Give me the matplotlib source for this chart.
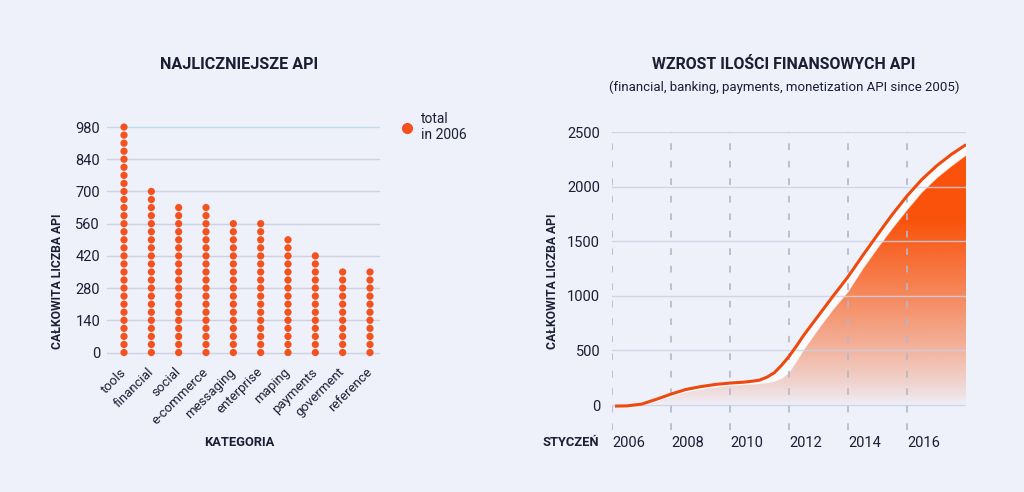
import numpy as np
import matplotlib
matplotlib.use('Agg')
import matplotlib.pyplot as plt
from matplotlib.lines import Line2D
from matplotlib.colors import to_rgb

plt.rcParams['font.family'] = ['Roboto', 'DejaVu Sans']

BG = '#EEF0FA'
DOT = '#F4511E'
LINE = '#EE4A10'
FILL = '#FA520A'
TEXT = '#1C1E33'
GRID = '#CDD1E2'

# left chart: most numerous API categories
categories = ['tools', 'financial', 'social', 'e-commerce', 'messaging',
              'enterprise', 'maping', 'payments', 'goverment', 'reference']
category_totals = [980, 700, 630, 630, 560, 560, 490, 420, 350, 350]
dot_step = 35
left_yticks = [0, 140, 280, 420, 560, 700, 840, 980]

# right chart: growth of financial APIs
years = [2006.1, 2006.5, 2007.0, 2007.5, 2008.0, 2008.5, 2009.0, 2009.5,
         2010.0, 2010.5, 2010.75, 2011.0, 2011.25, 2011.5, 2011.75, 2012.0,
         2012.25, 2012.5, 2013.0, 2013.5, 2014.0, 2014.5, 2015.0, 2015.5,
         2016.0, 2016.5, 2017.0, 2017.5, 2018.0]
line_values = [-10, -8, 8, 52, 100, 142, 168, 188,
               201, 210, 218, 228, 255, 295, 365, 445,
               540, 640, 820, 1000, 1175, 1370, 1560, 1745,
               1915, 2065, 2190, 2295, 2385]
fill_values = [-10, -8, 0, 35, 80, 120, 145, 165,
               180, 188, 192, 198, 205, 218, 245, 300,
               400, 510, 700, 880, 1040, 1250, 1440, 1620,
               1790, 1950, 2080, 2190, 2290]
right_yticks = [0, 500, 1000, 1500, 2000, 2500]
year_ticks = [2006, 2008, 2010, 2012, 2014, 2016]

fig = plt.figure(figsize=(10.24, 4.92), dpi=100, facecolor=BG)

# ---- left: dot columns
ax1 = fig.add_axes([0.1045, 0.2648, 0.2666, 0.491])
ax1.set_facecolor(BG)
for i, total in enumerate(category_totals):
    ys = np.arange(0, total + 1, dot_step)
    ax1.scatter(np.full(len(ys), i), ys, s=27, color=DOT,
                edgecolors='none', zorder=3)
for t in left_yticks:
    c = '#BCDCEA' if t == left_yticks[-1] else GRID
    ax1.axhline(t, color=c, lw=1, zorder=1)
ax1.set_xlim(-0.622, 9.366)
ax1.set_ylim(-40, 1010)
ax1.set_yticks(left_yticks)
ax1.set_xticks(range(len(categories)))
ax1.set_xticklabels(categories, rotation=45, ha='right', va='center',
                    rotation_mode='anchor')
ax1.tick_params(axis='y', length=0, pad=5, labelsize=10.5, labelcolor=TEXT)
ax1.tick_params(axis='x', length=0, pad=6, labelsize=9.5, labelcolor=TEXT)
for s in ax1.spines.values():
    s.set_visible(False)

h = Line2D([], [], marker='o', linestyle='none', color=DOT, markersize=7)
ax1.legend(handles=[h], labels=['total\nin 2006'], loc='center left',
           bbox_to_anchor=(0.384, 0.742), bbox_transform=fig.transFigure,
           frameon=False, handletextpad=0.5, handlelength=1, borderpad=0,
           fontsize=10, labelcolor=TEXT)

fig.text(0.2334, 0.8679, 'NAJLICZNIEJSZE API', ha='center', va='center',
         fontsize=11.6, fontweight='bold', color=TEXT)
fig.text(0.0557, 0.4289, 'CAŁKOWITA LICZBA API', ha='center', va='center',
         rotation=90, fontsize=8.7, fontweight='bold', color=TEXT)
fig.text(0.2334, 0.1016, 'KATEGORIA', ha='center', va='center',
         fontsize=9.3, fontweight='bold', color=TEXT)

# ---- right: growth curve
ax2 = fig.add_axes([0.5977, 0.126, 0.3457, 0.6067])
ax2.set_facecolor(BG)

poly = ax2.fill_between(years, 0, fill_values, color='none', lw=0)
yy = np.linspace(0, 2500, 400)[:, None]
grad = np.zeros((400, 2, 4))
grad[..., :3] = to_rgb(FILL)
grad[..., 3] = np.clip(yy / 1700, 0, 1) ** 0.8
im = ax2.imshow(grad, extent=[2006, 2018, 0, 2500], origin='lower',
                aspect='auto', zorder=1, interpolation='bilinear')
im.set_clip_path(poly.get_paths()[0], ax2.transData)

ax2.fill_between(years, fill_values, line_values, color='white', alpha=0.75,
                 lw=0, zorder=2)
for v in right_yticks:
    ax2.axhline(v, color=GRID, lw=1, alpha=0.85, zorder=3)
for yr in year_ticks:
    ax2.axvline(yr, ymax=0.998, color='#B3B8CA', lw=1.2, dashes=(4, 6.5),
                zorder=3)
ax2.plot(years, line_values, color=LINE, lw=2.2, zorder=4,
         solid_capstyle='butt', solid_joinstyle='round')

ax2.set_xlim(2006, 2018)
ax2.set_ylim(-229, 2505)
ax2.set_yticks(right_yticks)
ax2.set_xticks(year_ticks)
ax2.set_xticklabels([str(y) for y in year_ticks], ha='left')
ax2.tick_params(axis='y', length=0, pad=8.6, labelsize=10.5, labelcolor=TEXT)
ax2.tick_params(axis='x', length=0, pad=4, labelsize=10.5, labelcolor=TEXT)
for s in ax2.spines.values():
    s.set_visible(False)

fig.text(0.7656, 0.8679, 'WZROST ILOŚCI FINANSOWYCH API', ha='center',
         va='center', fontsize=11.4, fontweight='bold', color=TEXT)
fig.text(0.7656, 0.8232,
         '(financial, banking, payments, monetization API since 2005)',
         ha='center', va='center', fontsize=9.5, color=TEXT)
fig.text(0.540, 0.4289, 'CAŁKOWITA LICZBA API', ha='center', va='center',
         rotation=90, fontsize=8.7, fontweight='bold', color=TEXT)
fig.text(0.585, 0.1016, 'STYCZEŃ', ha='right', va='center',
         fontsize=9.3, fontweight='bold', color=TEXT)

fig.savefig('out.png', dpi=100, facecolor=BG)
